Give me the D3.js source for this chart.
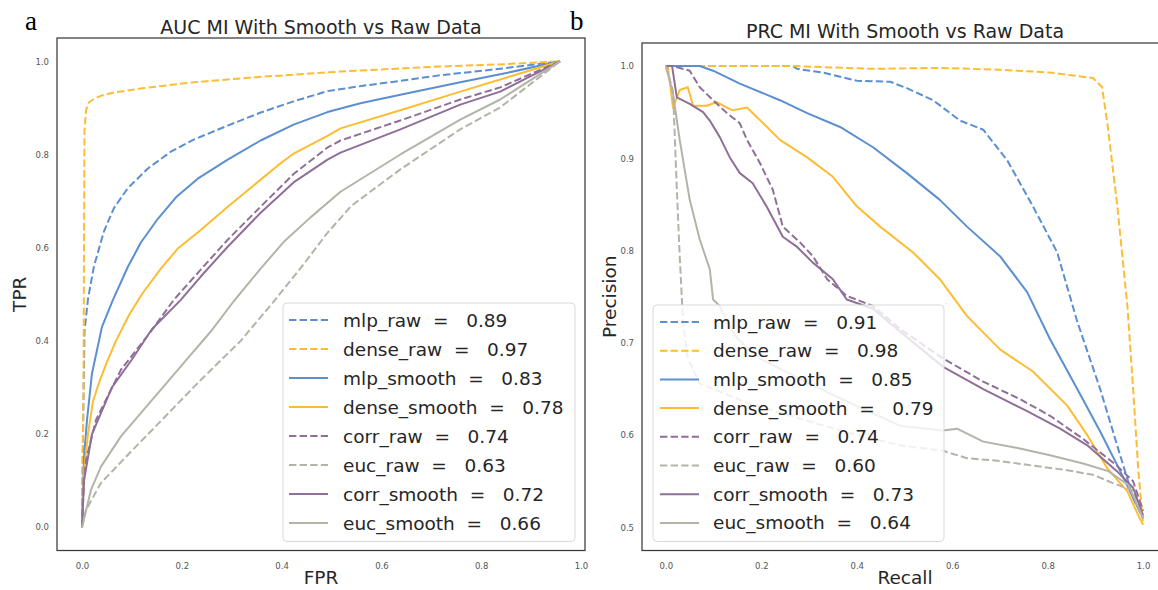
<!DOCTYPE html>
<html>
<head>
<meta charset="utf-8">
<script src="https://cdn.jsdelivr.net/npm/d3@7"></script>
<style>
  body { margin: 0; background: #fff; }
  svg text { font-family: "DejaVu Sans", sans-serif; fill: #262626; }
</style>
</head>
<body>
<svg id="chart" width="1158" height="590"></svg>
<script>
// series, in legend order
const seriesNames = ['mlp_raw', 'dense_raw', 'mlp_smooth', 'dense_smooth', 'corr_raw', 'euc_raw', 'corr_smooth', 'euc_smooth'];
const rocScores = [0.89, 0.97, 0.83, 0.78, 0.74, 0.63, 0.72, 0.66];
const prcScores = [0.91, 0.98, 0.85, 0.79, 0.74, 0.60, 0.73, 0.64];

const rocTicks = [0, 0.2, 0.4, 0.6, 0.8, 1.0];
const recallTicks = [0, 0.2, 0.4, 0.6, 0.8, 1.0];
const precisionTicks = [0.5, 0.6, 0.7, 0.8, 0.9, 1.0];

// ROC curves, [fpr, tpr]
const rocMlpRaw = [[0,0],[0.002,0.2],[0.005,0.42],[0.012,0.49],[0.024,0.56],[0.044,0.635],[0.064,0.685],[0.092,0.728],[0.132,0.77],[0.178,0.806],[0.224,0.832],[0.292,0.862],[0.358,0.89],[0.424,0.914],[0.492,0.936],[0.56,0.947],[0.638,0.958],[0.718,0.97],[0.838,0.984],[0.958,1]];
const rocDenseRaw = [[0,0],[0.003,0.3],[0.004,0.6],[0.005,0.85],[0.008,0.895],[0.014,0.912],[0.025,0.92],[0.04,0.927],[0.064,0.933],[0.12,0.942],[0.224,0.955],[0.35,0.966],[0.518,0.978],[0.7,0.988],[0.85,0.994],[0.958,1]];
const rocMlpSmooth = [[0,0],[0.004,0.15],[0.01,0.23],[0.02,0.33],[0.04,0.43],[0.062,0.488],[0.092,0.559],[0.118,0.611],[0.152,0.662],[0.19,0.71],[0.232,0.748],[0.292,0.789],[0.358,0.83],[0.424,0.864],[0.492,0.891],[0.558,0.91],[0.638,0.928],[0.758,0.955],[0.838,0.972],[0.958,1]];
const rocDenseSmooth = [[0,0],[0.004,0.12],[0.012,0.2],[0.022,0.27],[0.034,0.31],[0.05,0.355],[0.068,0.40],[0.094,0.455],[0.12,0.5],[0.158,0.555],[0.192,0.598],[0.238,0.638],[0.292,0.688],[0.358,0.746],[0.392,0.776],[0.424,0.802],[0.492,0.84],[0.518,0.856],[0.638,0.895],[0.758,0.935],[0.838,0.961],[0.958,1]];
const rocCorrRaw = [[0,0],[0.004,0.1],[0.008,0.144],[0.028,0.23],[0.078,0.338],[0.138,0.42],[0.184,0.488],[0.238,0.553],[0.292,0.617],[0.358,0.688],[0.424,0.758],[0.492,0.815],[0.518,0.83],[0.638,0.873],[0.758,0.918],[0.838,0.944],[0.958,1]];
const rocEucRaw = [[0,0],[0.008,0.037],[0.038,0.095],[0.098,0.162],[0.158,0.228],[0.238,0.316],[0.318,0.40],[0.384,0.484],[0.438,0.556],[0.492,0.632],[0.54,0.69],[0.638,0.768],[0.758,0.854],[0.838,0.901],[0.958,1]];
const rocCorrSmooth = [[0,0],[0.004,0.1],[0.02,0.2],[0.06,0.3],[0.1,0.36],[0.14,0.425],[0.198,0.488],[0.238,0.538],[0.292,0.602],[0.358,0.675],[0.424,0.74],[0.492,0.789],[0.518,0.804],[0.638,0.854],[0.758,0.907],[0.838,0.935],[0.958,1]];
const rocEucSmooth = [[0,0],[0.018,0.08],[0.038,0.13],[0.078,0.195],[0.138,0.27],[0.198,0.345],[0.258,0.42],[0.304,0.485],[0.358,0.555],[0.404,0.612],[0.458,0.665],[0.518,0.72],[0.638,0.80],[0.758,0.875],[0.838,0.918],[0.958,1]];

// PR curves, [recall, precision]
const prcMlpRaw = [[0,1],[0.266,1],[0.275,0.997],[0.329,0.993],[0.4,0.984],[0.47,0.983],[0.505,0.976],[0.56,0.963],[0.616,0.941],[0.665,0.931],[0.715,0.898],[0.769,0.848],[0.82,0.798],[0.862,0.723],[0.91,0.65],[0.952,0.578],[0.979,0.532],[1,0.51]];
const prcDenseRaw = [[0,1],[0.266,1],[0.434,0.997],[0.574,0.998],[0.7,0.996],[0.805,0.993],[0.895,0.987],[0.914,0.977],[0.925,0.938],[0.946,0.848],[0.967,0.74],[0.979,0.65],[0.99,0.561],[1,0.503]];
const prcMlpSmooth = [[0,1],[0.071,1],[0.099,0.995],[0.155,0.981],[0.239,0.963],[0.296,0.949],[0.365,0.934],[0.434,0.912],[0.505,0.884],[0.574,0.855],[0.631,0.826],[0.7,0.794],[0.757,0.755],[0.805,0.704],[0.862,0.65],[0.91,0.604],[0.952,0.561],[0.979,0.532],[1,0.51]];
const prcDenseSmooth = [[0,1],[0.004,1],[0.015,0.955],[0.029,0.974],[0.046,0.977],[0.057,0.957],[0.086,0.957],[0.107,0.961],[0.128,0.955],[0.14,0.952],[0.17,0.955],[0.212,0.934],[0.239,0.92],[0.296,0.901],[0.35,0.88],[0.4,0.848],[0.449,0.826],[0.518,0.798],[0.574,0.769],[0.631,0.729],[0.7,0.693],[0.769,0.669],[0.841,0.632],[0.883,0.6],[0.925,0.564],[0.967,0.539],[0.99,0.513],[1,0.503]];
const prcCorrRaw = [[0,1],[0.015,1],[0.05,0.995],[0.071,0.977],[0.099,0.963],[0.128,0.949],[0.155,0.938],[0.17,0.92],[0.197,0.895],[0.224,0.866],[0.245,0.826],[0.281,0.809],[0.308,0.794],[0.338,0.769],[0.379,0.751],[0.434,0.74],[0.491,0.715],[0.581,0.683],[0.665,0.658],[0.742,0.639],[0.805,0.621],[0.874,0.596],[0.945,0.567],[0.979,0.55],[1,0.518]];
const prcEucRaw = [[0,1],[0.015,0.973],[0.019,0.92],[0.023,0.866],[0.029,0.794],[0.036,0.723],[0.046,0.683],[0.071,0.656],[0.176,0.634],[0.281,0.618],[0.386,0.602],[0.491,0.589],[0.581,0.583],[0.631,0.575],[0.7,0.572],[0.769,0.567],[0.841,0.562],[0.895,0.557],[0.937,0.548],[0.979,0.54],[1,0.51]];
const prcCorrSmooth = [[0,1],[0.013,1],[0.023,0.966],[0.05,0.959],[0.078,0.95],[0.092,0.941],[0.113,0.923],[0.134,0.901],[0.155,0.884],[0.182,0.873],[0.212,0.847],[0.245,0.815],[0.275,0.804],[0.308,0.787],[0.35,0.769],[0.379,0.747],[0.434,0.737],[0.491,0.712],[0.581,0.674],[0.665,0.65],[0.757,0.626],[0.826,0.607],[0.883,0.589],[0.945,0.561],[0.979,0.543],[1,0.513]];
const prcEucSmooth = [[0,1],[0.015,0.97],[0.029,0.92],[0.05,0.855],[0.071,0.812],[0.092,0.78],[0.099,0.747],[0.113,0.74],[0.128,0.723],[0.149,0.705],[0.197,0.683],[0.281,0.661],[0.365,0.64],[0.491,0.61],[0.581,0.605],[0.61,0.607],[0.665,0.593],[0.737,0.586],[0.807,0.578],[0.876,0.569],[0.927,0.561],[0.969,0.546],[1,0.51]];

const rocCurves = [rocMlpRaw, rocDenseRaw, rocMlpSmooth, rocDenseSmooth, rocCorrRaw, rocEucRaw, rocCorrSmooth, rocEucSmooth];
const prcCurves = [prcMlpRaw, prcDenseRaw, prcMlpSmooth, prcDenseSmooth, prcCorrRaw, prcEucRaw, prcCorrSmooth, prcEucSmooth];

// colour + dash per series
const colors = ['#5b8fd0', '#fdbd33', '#5b8fd0', '#fdbd33', '#8f6f98', '#b5b3a8', '#8f6f98', '#b5b3a8'];
const dashed = [true, true, false, false, true, true, false, false];

const svg = d3.select('#chart');

// panel letters
svg.append('text').attr('x', 25).attr('y', 30)
  .style('font-family', '"Liberation Serif", serif').style('font-size', '27px').style('fill', '#000').text('a');
svg.append('text').attr('x', 570).attr('y', 30)
  .style('font-family', '"Liberation Serif", serif').style('font-size', '27px').style('fill', '#000').text('b');

function drawPanel(p) {
  const g = svg.append('g');
  const x = d3.scaleLinear().domain(p.xDomain).range([p.left, p.right]);
  const y = d3.scaleLinear().domain(p.yDomain).range([p.bottom, p.top]);

  // clip so nothing spills past the frame (right panel runs off the page)
  const clipId = 'clip' + p.left;
  svg.append('clipPath').attr('id', clipId).append('rect')
    .attr('x', p.left).attr('y', p.top).attr('width', p.right - p.left).attr('height', p.bottom - p.top);

  // tick labels only, no tick marks (seaborn white style)
  const xAxis = g.append('g')
    .attr('transform', `translate(0, ${p.bottom})`)
    .call(d3.axisBottom(x).tickValues(p.xTicks).tickFormat(d3.format('.1f')).tickSize(0).tickPadding(12));
  const yAxis = g.append('g')
    .attr('transform', `translate(${p.left}, 0)`)
    .call(d3.axisLeft(y).tickValues(p.yTicks).tickFormat(d3.format('.1f')).tickSize(0).tickPadding(8));
  [xAxis, yAxis].forEach(a => {
    a.select('.domain').remove();
    a.selectAll('text').style('font-size', '8.5px').style('fill', '#555')
      .style('font-family', '"DejaVu Sans", sans-serif');
  });

  const line = d3.line().x(d => x(d[0])).y(d => y(d[1]));
  const plot = g.append('g').attr('clip-path', `url(#${clipId})`);
  p.curves.forEach((c, i) => {
    plot.append('path')
      .datum(c)
      .attr('d', line)
      .attr('fill', 'none')
      .attr('stroke', colors[i])
      .attr('stroke-width', 2)
      .attr('stroke-linejoin', 'round')
      .attr('stroke-dasharray', dashed[i] ? '7.4,3.2' : null);
  });

  // frame
  g.append('rect')
    .attr('x', p.left).attr('y', p.top)
    .attr('width', p.right - p.left).attr('height', p.bottom - p.top)
    .attr('fill', 'none').attr('stroke', '#3a3a3a').attr('stroke-width', 1.25);

  // legend
  const lg = p.legend;
  g.append('rect')
    .attr('x', lg.x).attr('y', lg.y).attr('width', lg.w).attr('height', lg.h)
    .attr('rx', 4)
    .attr('fill', '#fff').attr('fill-opacity', 0.8)
    .attr('stroke', '#d9d9d9').attr('stroke-width', 1);
  seriesNames.forEach((name, i) => {
    const cy = lg.y + lg.first + i * lg.step;
    g.append('line')
      .attr('x1', lg.x + lg.lineX).attr('x2', lg.x + lg.lineX + 39)
      .attr('y1', cy).attr('y2', cy)
      .attr('stroke', colors[i]).attr('stroke-width', 2)
      .attr('stroke-dasharray', dashed[i] ? '7.4,3.2' : null);
    g.append('text')
      .attr('x', lg.x + lg.textX).attr('y', cy)
      .attr('dominant-baseline', 'central')
      .style('white-space', 'pre')
      .style('font-size', '18.5px')
      .text(`${name}  =   ${p.scores[i].toFixed(2)}`);
  });

  // title + axis labels
  svg.append('text').attr('x', p.titleX).attr('y', p.titleY)
    .attr('text-anchor', 'middle').style('font-size', '19px').text(p.title);
  svg.append('text').attr('x', p.titleX).attr('y', 584)
    .attr('text-anchor', 'middle').style('font-size', '18.5px').text(p.xLabel);
  svg.append('text')
    .attr('transform', `translate(${p.yLabelX}, ${(p.top + p.bottom) / 2}) rotate(-90)`)
    .attr('text-anchor', 'middle').style('font-size', '18.5px').text(p.yLabel);
}

drawPanel({
  left: 57, right: 585, top: 38, bottom: 550.5,
  xDomain: [-0.0501, 1.008], yDomain: [-0.05, 1.05],
  xTicks: rocTicks, yTicks: rocTicks,
  curves: rocCurves, scores: rocScores,
  title: 'AUC MI With Smooth vs Raw Data', titleX: 321, titleY: 34,
  xLabel: 'FPR', yLabel: 'TPR', yLabelX: 26,
  legend: { x: 283, y: 303, w: 292, h: 238.5, first: 17, step: 29, lineX: 6, textX: 60 }
});

drawPanel({
  left: 642, right: 1167, top: 43, bottom: 550.5,
  xDomain: [-0.05, 1.05], yDomain: [0.475, 1.025],
  xTicks: recallTicks, yTicks: precisionTicks,
  curves: prcCurves, scores: prcScores,
  title: 'PRC MI With Smooth vs Raw Data', titleX: 905, titleY: 38,
  xLabel: 'Recall', yLabel: 'Precision', yLabelX: 616,
  legend: { x: 653, y: 305, w: 291, h: 236.5, first: 17, step: 28.7, lineX: 7, textX: 60 }
});
</script>
</body>
</html>
